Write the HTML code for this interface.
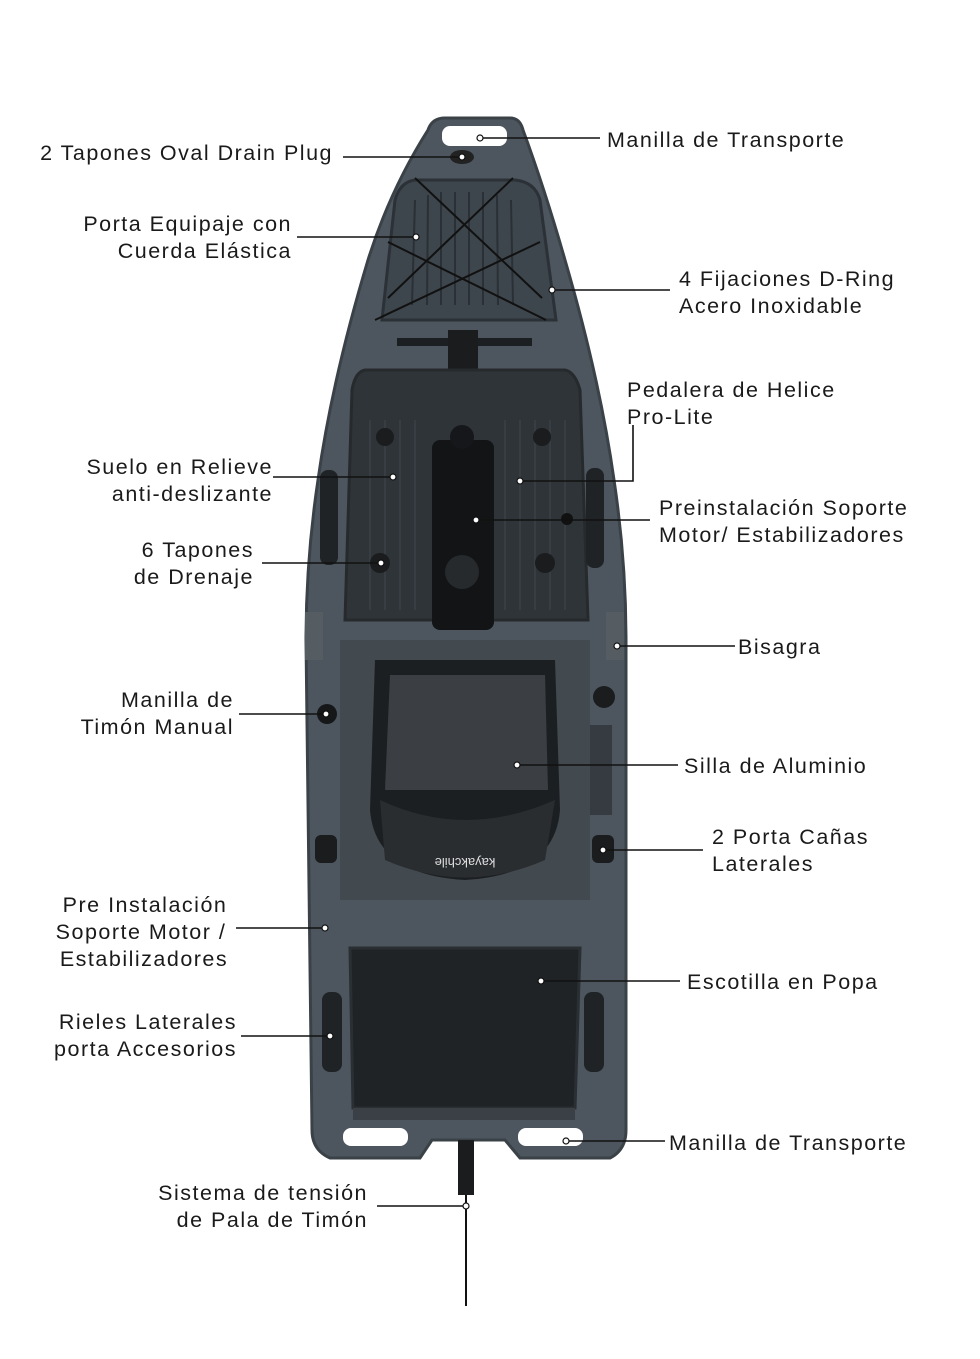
<!DOCTYPE html>
<html><head><meta charset="utf-8"><style>
html,body{margin:0;padding:0;background:#fff}
svg{display:block}
text{font-family:"Liberation Sans",sans-serif;font-size:21.5px;fill:#1a1a1a;letter-spacing:1.5px}
.l{stroke:#111;stroke-width:1.6;fill:none}
.d{fill:#fff;stroke:#111;stroke-width:1.2}
</style></head><body>
<svg width="980" height="1359" viewBox="0 0 980 1359">
<!-- kayak hull -->
<path id="hull" d="M445 118 L510 118 Q520 118 523 130 Q545 190 565 260 Q600 380 614 480 Q626 560 626 640 L626 1130 Q626 1150 610 1158 L520 1158 L505 1140 L432 1140 L420 1158 L330 1158 Q312 1150 312 1130 L306 640 Q306 560 318 480 Q332 380 368 260 Q390 190 428 130 Q432 118 445 118 Z" fill="#4d565e" stroke="#3a4248" stroke-width="3"/>
<!-- handle -->
<rect x="442" y="126" width="65" height="20" rx="8" fill="#fff"/>
<!-- front bungee area -->
<path d="M415 180 L515 180 Q535 182 540 200 L556 320 L382 320 L395 200 Q400 182 415 180 Z" fill="#3e464d" stroke="#2b3136" stroke-width="3"/>
<g stroke="#2a3035" stroke-width="2">
<line x1="415" y1="200" x2="412" y2="305"/><line x1="428" y1="195" x2="427" y2="305"/><line x1="441" y1="192" x2="441" y2="305"/><line x1="455" y1="192" x2="455" y2="305"/><line x1="469" y1="192" x2="469" y2="305"/><line x1="483" y1="192" x2="483" y2="305"/><line x1="497" y1="195" x2="498" y2="305"/><line x1="511" y1="200" x2="513" y2="305"/>
</g>
<g stroke="#111" stroke-width="2">
<line x1="415" y1="178" x2="542" y2="298"/><line x1="513" y1="178" x2="388" y2="298"/>
<line x1="388" y1="242" x2="546" y2="320"/><line x1="540" y1="242" x2="375" y2="320"/>
</g>
<ellipse cx="462" cy="157" rx="12" ry="7" fill="#222"/>
<!-- pedal bar -->
<rect x="397" y="338" width="135" height="8" fill="#1c1f22"/>
<rect x="448" y="330" width="30" height="110" fill="#1a1c1e"/>
<!-- cockpit floor -->
<path d="M365 370 L565 370 Q575 372 580 390 L588 620 L345 620 L352 390 Q355 372 365 370 Z" fill="#2f3438" stroke="#262a2d" stroke-width="3"/>
<g stroke="#3a4045" stroke-width="1.5">
<line x1="370" y1="420" x2="370" y2="610"/><line x1="385" y1="420" x2="385" y2="610"/><line x1="400" y1="420" x2="400" y2="610"/><line x1="415" y1="420" x2="415" y2="610"/>
<line x1="505" y1="420" x2="505" y2="610"/><line x1="520" y1="420" x2="520" y2="610"/><line x1="535" y1="420" x2="535" y2="610"/><line x1="550" y1="420" x2="550" y2="610"/><line x1="565" y1="420" x2="565" y2="610"/>
</g>
<rect x="432" y="440" width="62" height="190" rx="8" fill="#121416"/>
<circle cx="462" cy="572" r="17" fill="#262a2d"/>
<circle cx="462" cy="437" r="12" fill="#15171a"/>
<circle cx="380" cy="563" r="10" fill="#1a1c1e"/><circle cx="545" cy="563" r="10" fill="#1a1c1e"/>
<circle cx="385" cy="437" r="9" fill="#1a1c1e"/><circle cx="542" cy="437" r="9" fill="#1a1c1e"/>
<circle cx="567" cy="519" r="6" fill="#111"/>
<rect x="320" y="470" width="18" height="95" rx="8" fill="#1f2326"/>
<rect x="586" y="468" width="18" height="100" rx="8" fill="#1f2326"/>
<!-- seat area -->
<rect x="340" y="640" width="250" height="260" fill="#42494f"/>
<path d="M375 660 L555 660 L560 810 Q555 875 465 880 Q375 875 370 810 Z" fill="#1c1f22"/>
<path d="M390 675 L545 675 L548 790 L385 790 Z" fill="#3b3f43"/>
<path d="M380 800 Q465 840 555 800 L545 860 Q465 895 385 860 Z" fill="#2a2d30"/>
<text x="465" y="868" style="font-size:13px;fill:#ddd;letter-spacing:0" text-anchor="middle" transform="rotate(180 465 863)">kayakchile</text>
<rect x="305" y="612" width="18" height="48" fill="#555d63"/><rect x="606" y="612" width="18" height="48" fill="#555d63"/>
<circle cx="327" cy="714" r="10" fill="#151719"/>
<circle cx="604" cy="697" r="11" fill="#1a1c1e"/>
<rect x="590" y="725" width="22" height="90" fill="#353b40"/>
<rect x="315" y="835" width="22" height="28" rx="6" fill="#1a1c1e"/>
<rect x="592" y="835" width="22" height="28" rx="6" fill="#1a1c1e"/>
<!-- stern hatch -->
<path d="M350 948 L580 948 L575 1108 L353 1108 Z" fill="#1f2326" stroke="#2a2f33" stroke-width="3"/>
<rect x="353" y="1108" width="222" height="12" fill="#3a4046"/>
<rect x="322" y="992" width="20" height="80" rx="8" fill="#1f2326"/>
<rect x="584" y="992" width="20" height="80" rx="8" fill="#1f2326"/>
<rect x="343" y="1128" width="65" height="18" rx="8" fill="#fff"/>
<rect x="518" y="1128" width="65" height="18" rx="8" fill="#fff"/>
<!-- rudder -->
<rect x="458" y="1140" width="16" height="55" fill="#1a1c1e"/>
<line x1="466" y1="1195" x2="466" y2="1306" stroke="#111" stroke-width="2"/>

<!-- connectors -->
<g class="l">
<polyline points="343,157 460,157"/>
<polyline points="482,138 600,138"/>
<polyline points="297,237 415,237"/>
<polyline points="553,290 670,290"/>
<polyline points="520,481 633,481 633,425"/>
<polyline points="273,477 393,477"/>
<polyline points="476,520 650,520"/>
<polyline points="262,563 380,563"/>
<polyline points="617,646 735,646"/>
<polyline points="239,714 326,714"/>
<polyline points="517,765 678,765"/>
<polyline points="604,850 703,850"/>
<polyline points="236,928 325,928"/>
<polyline points="541,981 680,981"/>
<polyline points="241,1036 330,1036"/>
<polyline points="566,1141 665,1141"/>
<polyline points="377,1206 465,1206"/>
</g>
<g class="d">
<circle cx="462" cy="157" r="3"/><circle cx="480" cy="138" r="3"/><circle cx="416" cy="237" r="3"/><circle cx="552" cy="290" r="3"/><circle cx="520" cy="481" r="3"/><circle cx="393" cy="477" r="3"/><circle cx="476" cy="520" r="3"/><circle cx="381" cy="563" r="3"/><circle cx="617" cy="646" r="3"/><circle cx="326" cy="714" r="3"/><circle cx="517" cy="765" r="3"/><circle cx="603" cy="850" r="3"/><circle cx="325" cy="928" r="3"/><circle cx="541" cy="981" r="3"/><circle cx="330" cy="1036" r="3"/><circle cx="566" cy="1141" r="3"/><circle cx="466" cy="1206" r="3"/>
</g>

<!-- labels -->
<text x="333" y="160" text-anchor="end">2 Tapones Oval Drain Plug</text>
<text x="607" y="147">Manilla de Transporte</text>
<text x="292" y="231" text-anchor="end">Porta Equipaje con</text>
<text x="292" y="258" text-anchor="end">Cuerda Elástica</text>
<text x="679" y="286">4 Fijaciones D-Ring</text>
<text x="679" y="313">Acero Inoxidable</text>
<text x="627" y="397">Pedalera de Helice</text>
<text x="627" y="424">Pro-Lite</text>
<text x="273" y="474" text-anchor="end">Suelo en Relieve</text>
<text x="273" y="501" text-anchor="end">anti-deslizante</text>
<text x="659" y="515">Preinstalación Soporte</text>
<text x="659" y="542">Motor/ Estabilizadores</text>
<text x="254" y="557" text-anchor="end">6 Tapones</text>
<text x="254" y="584" text-anchor="end">de Drenaje</text>
<text x="738" y="654">Bisagra</text>
<text x="234" y="707" text-anchor="end">Manilla de</text>
<text x="234" y="734" text-anchor="end">Timón Manual</text>
<text x="684" y="773">Silla de Aluminio</text>
<text x="712" y="844">2 Porta Cañas</text>
<text x="712" y="871">Laterales</text>
<text x="145" y="912" text-anchor="middle">Pre Instalación</text>
<text x="141" y="939" text-anchor="middle">Soporte Motor /</text>
<text x="144" y="966" text-anchor="middle">Estabilizadores</text>
<text x="687" y="989">Escotilla en Popa</text>
<text x="237" y="1029" text-anchor="end">Rieles Laterales</text>
<text x="237" y="1056" text-anchor="end">porta Accesorios</text>
<text x="669" y="1150">Manilla de Transporte</text>
<text x="368" y="1200" text-anchor="end">Sistema de tensión</text>
<text x="368" y="1227" text-anchor="end">de Pala de Timón</text>
</svg>
</body></html>
